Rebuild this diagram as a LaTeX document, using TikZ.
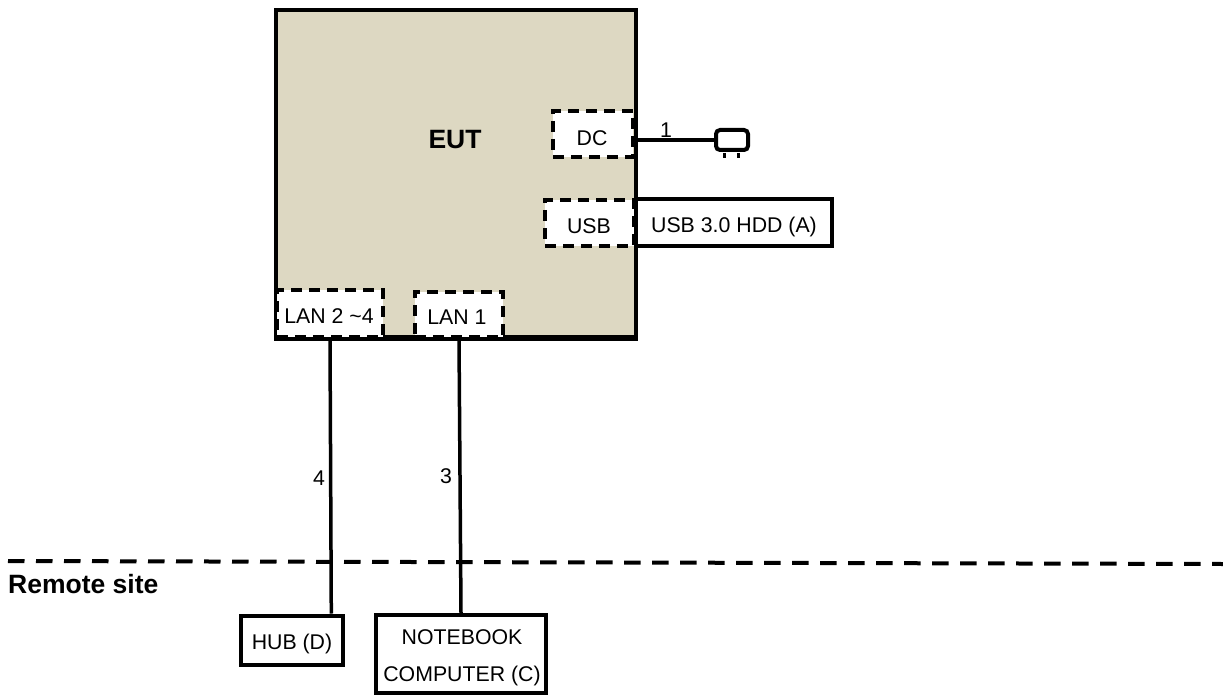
\documentclass[tikz,border=0pt]{standalone}
\usepackage{fontspec}
\setmainfont{Liberation Sans}
\newcommand{\dn}[1]{\raisebox{-4pt}[\height][\depth]{#1}}
\tikzset{
  base/.style={inner sep=0pt,font=\fontsize{21.3}{26}\selectfont,align=center},
  solidbox/.style={base,draw=black,line width=4pt,fill=white},
  portbox/.style={base,draw=black,line width=4pt,fill=white,dash pattern=on 11pt off 7pt},
  cable/.style={draw=black,line width=3.5pt},
  lbl/.style={base},
  boldlbl/.style={inner sep=0pt,font=\fontsize{26.5}{30}\selectfont\bfseries}
}
\begin{document}
\begin{tikzpicture}[x=1pt,y=-1pt]
\useasboundingbox (0,0) rectangle (1223,695);
\node[draw=black,line width=4pt,fill={rgb,255:red,221;green,216;blue,194},minimum width=360pt,minimum height=327pt,inner sep=0pt] (eut) at (456,173.5) {};
\node[boldlbl] (eutl) at (455,140) {EUT};
\node[portbox,minimum width=80pt,minimum height=46pt] (dc) at (593,134) {};
\node[lbl] (dcl) at (592,138) {DC};
\node[portbox,minimum width=89pt,minimum height=46pt] (usb) at (589.5,223) {};
\node[lbl] (usbl) at (589,226) {USB};
\node[solidbox,minimum width=196pt,minimum height=47pt] (hdd) at (734,222.5) {\dn{USB 3.0 HDD (A)}};
\node[portbox,minimum width=106pt,minimum height=47pt] (lanb) at (330,313.5) {};
\node[lbl] (lanbl) at (329,316) {LAN 2 \textasciitilde 4};
\node[portbox,minimum width=88pt,minimum height=45pt] (lana) at (459,314.5) {};
\node[lbl] (lanal) at (457,317) {LAN 1};
\draw[black,line width=4pt] (eut.south west) -- (eut.south east);
\node[draw=black,line width=4pt,rounded corners=4pt,fill=white,minimum width=32pt,minimum height=20pt,inner sep=0pt] (plug) at (732,140) {};
\draw[cable] (plug.west) -- (eut.east |- plug.west);
\draw[black,line width=3pt] (plug.south)+(-8,1) -- +(-8,6);
\draw[black,line width=3pt] (plug.south)+(6,1) -- +(6,6);
\node[lbl] (n1) at (666,130) {1};
\node[solidbox,minimum width=102pt,minimum height=49pt] (hub) at (292,640) {\dn{HUB (D)}};
\node[solidbox,minimum width=170pt,minimum height=78pt,font=\fontsize{21.3}{37}\selectfont] (nb) at (461,654) {\hspace*{2pt}\dn{NOTEBOOK}\\\hspace*{2pt}\dn{COMPUTER (C)}};
\coordinate (dl) at (8,561);
\coordinate (dr) at (1223,564);
\draw[black,line width=4pt,dash pattern=on 16.5pt off 11.5pt] (dl) -- (dr);
\draw[cable] (lanb.south) -- (hub.34);
\draw[cable] (lana.south) -- (nb.north);
\node[lbl] (n4) at (319,478) {4};
\node[lbl] (n3) at (446,476) {3};
\node[boldlbl,anchor=base west] (rs) at (8,593) {Remote site};
\end{tikzpicture}
\end{document}
